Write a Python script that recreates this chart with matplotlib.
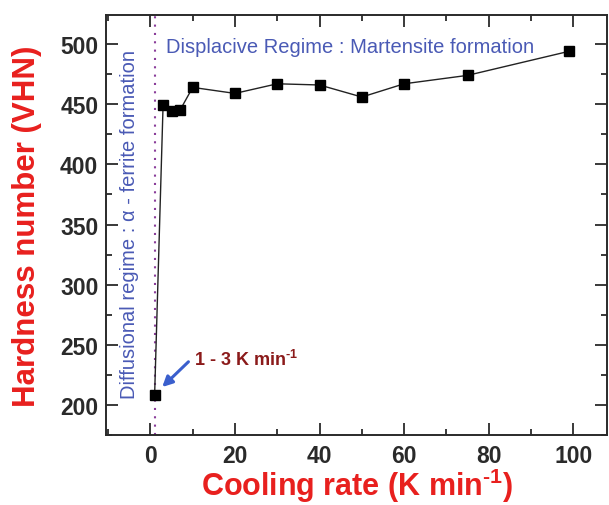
import matplotlib
matplotlib.use("Agg")
import matplotlib.pyplot as plt
from matplotlib.ticker import MultipleLocator

# Hardness vs cooling rate
cooling_rate = [1, 3, 5, 7, 10, 20, 30, 40, 50, 60, 75, 99]
hardness = [208, 449, 444, 445, 464, 459, 467, 466, 456, 467, 474, 494]
boundary_rate = 1

plt.rcParams["font.family"] = ["Liberation Sans", "DejaVu Sans"]
plt.rcParams["mathtext.fontset"] = "custom"
plt.rcParams["mathtext.rm"] = "Liberation Sans"
plt.rcParams["mathtext.bf"] = "Liberation Sans:bold"

RED = "#e8201e"
BLUE = "#4a5ab5"
DARK = "#2a2a2a"

fig = plt.figure(figsize=(6.09, 5.06), dpi=100)
ax = fig.add_axes([0.174, 0.138, 0.823, 0.830])

ax.plot(cooling_rate, hardness, color="#222222", lw=1.0,
        marker="s", ms=7, mfc="black", mec="black", zorder=3)
ax.axvline(boundary_rate, color="#8a3d9a", lw=1.5, ls=(0, (1, 3)), zorder=2)

ax.set_xlim(-10.5, 108)
ax.set_ylim(175, 524)
ax.xaxis.set_major_locator(MultipleLocator(20))
ax.xaxis.set_minor_locator(MultipleLocator(10))
ax.yaxis.set_major_locator(MultipleLocator(50))
ax.yaxis.set_minor_locator(MultipleLocator(25))
ax.tick_params(which="both", direction="in", top=True, right=True,
               color=DARK, width=1.3, labelsize=16.5, labelcolor=DARK)
ax.tick_params(which="major", length=8.5)
ax.tick_params(which="minor", length=4.5)
ax.tick_params(axis="x", pad=6.5)
ax.tick_params(axis="y", pad=5.5)
for lab in ax.get_xticklabels() + ax.get_yticklabels():
    lab.set_fontweight("bold")
for s in ax.spines.values():
    s.set_color(DARK)
    s.set_linewidth(1.4)

ax.set_xlabel("Cooling rate (K min$^{\\mathbf{\u20101}}$)", color=RED,
              fontsize=22, fontweight="bold", labelpad=-1)
ax.set_ylabel("Hardness number (VHN)", color=RED,
              fontsize=22.5, fontweight="bold", labelpad=13)

ax.text(3.8, 498, "Displacive Regime : Martensite formation",
        color=BLUE, fontsize=14.5, va="center", ha="left")
ax.text(-5.0, 206, "Diffusional regime : \u03b1 - ferrite formation",
        color=BLUE, fontsize=14.5, rotation=90, va="bottom", ha="center")

ax.text(10.2, 238, "1 - 3 K min$^{\\mathbf{\u20101}}$", color="#8b1a1a",
        fontsize=13, fontweight="bold", va="center", ha="left")
ax.annotate("", xy=(2.8, 215), xytext=(9.0, 236),
            arrowprops=dict(arrowstyle="-|>", color="#3a5fcd", lw=2.2,
                            mutation_scale=15, shrinkA=0, shrinkB=0))

fig.savefig("out.png", dpi=100)
